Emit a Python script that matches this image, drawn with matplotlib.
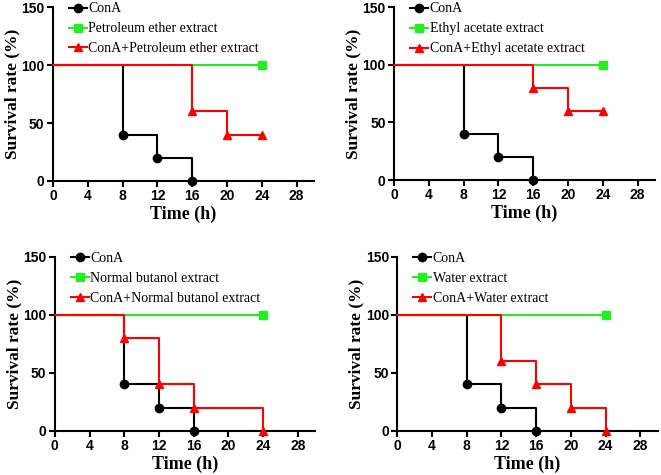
import matplotlib
matplotlib.use("Agg")
import matplotlib.pyplot as plt

# ---- data ----
conA_t = [0, 8, 12, 16]
conA_v = [100, 40, 20, 0]
extract_t = [0, 24]
extract_v = [100, 100]

extract_names = ["Petroleum ether extract", "Ethyl acetate extract",
                 "Normal butanol extract", "Water extract"]

combo_t = [
    [0, 16, 20, 24],
    [0, 16, 20, 24],
    [0, 8, 12, 16, 24],
    [0, 12, 16, 20, 24],
]
combo_v = [
    [100, 60, 40, 40],
    [100, 80, 60, 60],
    [100, 80, 40, 20, 0],
    [100, 60, 40, 20, 0],
]

x_ticks = [0, 4, 8, 12, 16, 20, 24, 28]
y_ticks = [0, 50, 100, 150]

# ---- layout (figure fractions) ----
positions = [
    [0.080, 0.619, 0.395, 0.366],
    [0.596, 0.621, 0.395, 0.364],
    [0.083, 0.093, 0.394, 0.366],
    [0.601, 0.093, 0.394, 0.366],
]

fig = plt.figure(figsize=(6.61, 4.75), dpi=100)

serif = "Liberation Serif"
sans = "Liberation Sans"

for i in range(4):
    ax = fig.add_axes(positions[i])
    ax.step(conA_t, conA_v, where="post", color="black", lw=1.5,
            marker="o", markersize=6, markevery=slice(1, None), label="ConA",
            clip_on=False, zorder=3)
    ax.step(extract_t, extract_v, where="post", color="#22ee22", lw=1.5,
            marker="s", markersize=6, markevery=[1], label=extract_names[i],
            clip_on=False, zorder=4)
    ax.step(combo_t[i], combo_v[i], where="post", color="#ff0000", lw=1.5,
            marker="^", markersize=6, markevery=slice(1, None),
            label="ConA+" + extract_names[i], clip_on=False, zorder=5)

    ax.set_xlim(0, 30)
    ax.set_ylim(0, 150)
    ax.set_xticks(x_ticks)
    ax.set_yticks(y_ticks)
    for s in ["top", "right"]:
        ax.spines[s].set_visible(False)
    for s in ["left", "bottom"]:
        ax.spines[s].set_linewidth(1.5)
    ax.tick_params(direction="out", width=1.5, length=4, labelsize=10, pad=2)
    for lab in ax.get_xticklabels() + ax.get_yticklabels():
        lab.set_fontfamily(sans)
        lab.set_fontweight("bold")
    ax.set_xlabel("Time (h)", fontfamily=serif, fontweight="bold", fontsize=13, labelpad=2)
    ax.set_ylabel("Survival rate (%)", fontfamily=serif, fontweight="bold", fontsize=12.5, labelpad=1)

    leg = ax.legend(loc="upper left", bbox_to_anchor=(0.03, 1.075), frameon=False,
                    prop={"family": serif, "size": 10}, handlelength=1.3,
                    handletextpad=0.1, labelspacing=0.5, borderaxespad=0.2)

fig.savefig("out.png", dpi=100)
